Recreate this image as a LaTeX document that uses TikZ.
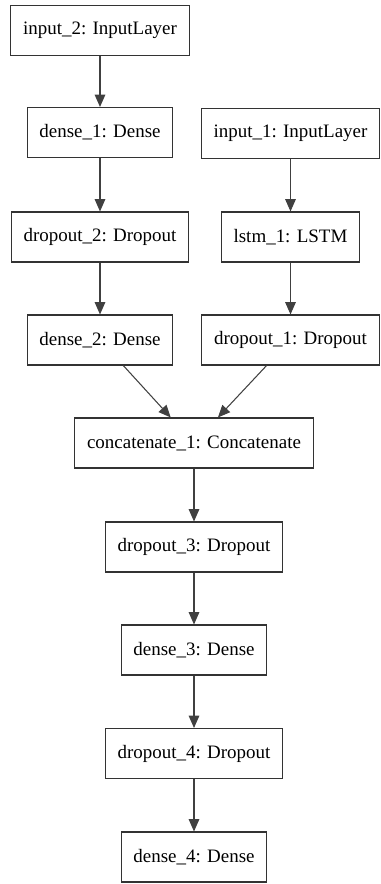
\documentclass[tikz,border=0pt]{standalone}
\usepackage{fontspec}
\setmainfont{Liberation Serif}
\usetikzlibrary{arrows.meta}

\tikzset{
    layer/.style={draw=black!80, line width=0.6pt, fill=white, inner xsep=7pt,
        minimum height=1cm, font=\rmfamily\fontsize{10.8}{13}\selectfont},
    flow/.style={draw=black!75, line width=0.6pt, -{Triangle[length=7pt,width=6pt]}}
}

\begin{document}
\begin{tikzpicture}[x=0.02cm, y=-0.02cm]
    \useasboundingbox (0,0) rectangle (381,884);

    % left branch
    \node[layer] (in2) at (100,30.5) {input\_2: InputLayer};
    \node[layer] (d1) at (100,132.5) {dense\_1: Dense};
    \node[layer] (dr2) at (100,237) {dropout\_2: Dropout};
    \node[layer] (d2) at (100,340) {dense\_2: Dense};

    % right branch
    \node[layer] (in1) at (290.5,133.5) {input\_1: InputLayer};
    \node[layer] (lstm) at (290.5,237) {lstm\_1: LSTM};
    \node[layer] (dr1) at (290.5,340) {dropout\_1: Dropout};

    % merged part
    \node[layer] (cat) at (194,443) {concatenate\_1: Concatenate};
    \node[layer] (dr3) at (194,547) {dropout\_3: Dropout};
    \node[layer] (d3) at (194,650) {dense\_3: Dense};
    \node[layer] (dr4) at (194,753.5) {dropout\_4: Dropout};
    \node[layer] (d4) at (194,857) {dense\_4: Dense};

    \draw[flow] (in2) -- (d1);
    \draw[flow] (d1) -- (dr2);
    \draw[flow] (dr2) -- (d2);
    \draw[flow] (in1) -- (lstm);
    \draw[flow] (lstm) -- (dr1);
    \draw[flow] (d2) -- (cat);
    \draw[flow] (dr1) -- (cat);
    \draw[flow] (cat) -- (dr3);
    \draw[flow] (dr3) -- (d3);
    \draw[flow] (d3) -- (dr4);
    \draw[flow] (dr4) -- (d4);
\end{tikzpicture}
\end{document}
